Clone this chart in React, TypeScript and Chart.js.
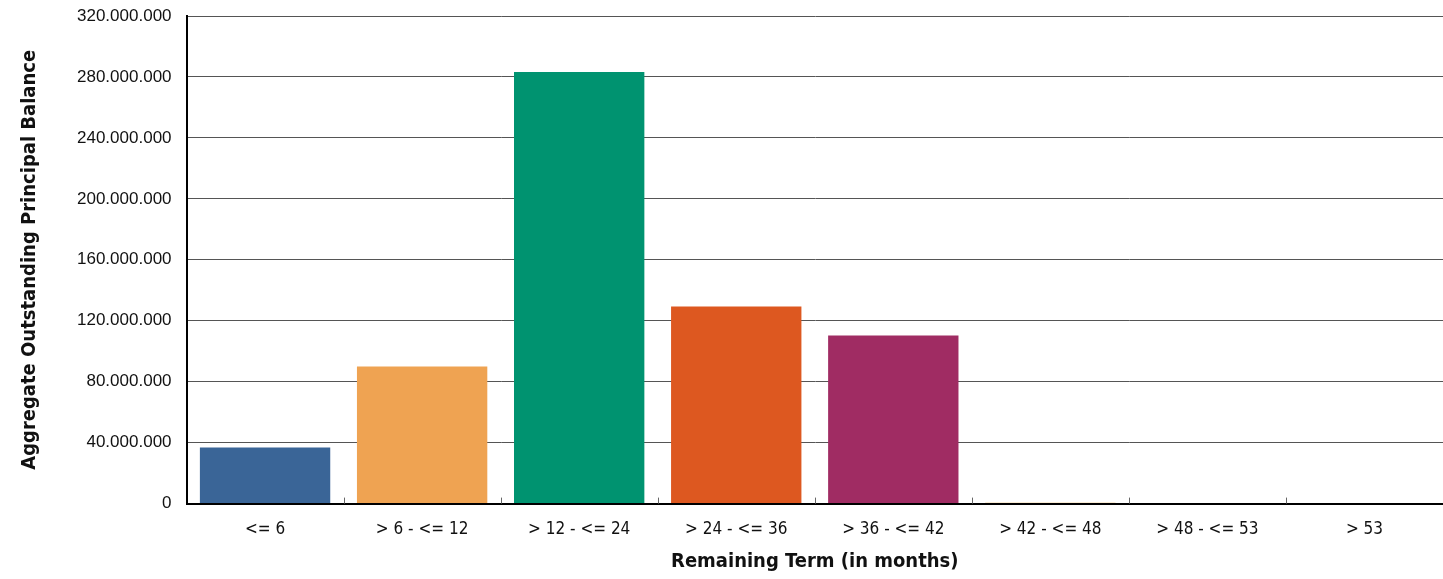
import React, { useEffect, useRef } from "react";
import { Chart, registerables } from "chart.js";

Chart.register(...registerables);

const categories = ["<= 6", "> 6 - <= 12", "> 12 - <= 24", "> 24 - <= 36", "> 36 - <= 42", "> 42 - <= 48", "> 48 - <= 53", "> 53"];
const balances = [36800000, 90000000, 283200000, 129400000, 110400000, 500000, 0, 0];
const barColors = ["#3a6597", "#efa352", "#009370", "#dd5820", "#a02c63", "#e9b35a", "#3a6597", "#efa352"];
const yTickMax = 320000000;
const yTickStep = 40000000;
const xTitle = "Remaining Term (in months)";
const yTitle = "Aggregate Outstanding Principal Balance";

const fmt = (v: number) => Math.round(v).toString().replace(/\B(?=(\d{3})+(?!\d))/g, ".");

const innerTicks = {
  id: "innerTicks",
  afterDatasetsDraw(chart: any) {
    const x = chart.scales.x;
    const y = chart.scales.y;
    const ctx = chart.ctx;
    const y0 = y.getPixelForValue(0);
    ctx.save();
    ctx.strokeStyle = "#666";
    ctx.lineWidth = 1;
    for (let i = 1; i < categories.length; i++) {
      const px = Math.round((x.getPixelForValue(i - 1) + x.getPixelForValue(i)) / 2) + 0.5;
      ctx.beginPath();
      ctx.moveTo(px, y0 - 6);
      ctx.lineTo(px, y0);
      ctx.stroke();
    }
    ctx.restore();
  },
};

export default function App() {
  const ref = useRef<HTMLCanvasElement>(null);
  useEffect(() => {
    document.body.style.margin = "0";
    const chart = new Chart(ref.current!, {
      type: "bar",
      data: {
        labels: categories,
        datasets: [
          {
            data: balances,
            backgroundColor: barColors,
            borderWidth: 0,
            categoryPercentage: 1,
            barPercentage: 0.83,
          },
        ],
      },
      options: {
        animation: false,
        responsive: false,
        maintainAspectRatio: false,
        layout: { padding: { top: 0, right: 0, left: 18, bottom: 5 } },
        plugins: { legend: { display: false }, tooltip: { enabled: false } },
        scales: {
          x: {
            grid: { display: false, drawTicks: false },
            border: { display: true, color: "#000", width: 2 },
            ticks: {
              color: "#111",
              padding: 16,
              font: { family: "'Liberation Sans Narrow', 'DejaVu Sans Condensed', sans-serif", size: 17 },
              maxRotation: 0,
              autoSkip: false,
            },
            title: {
              display: true,
              text: xTitle,
              color: "#111",
              padding: { top: -6, bottom: 0 },
              font: { family: "'Liberation Sans Narrow', 'DejaVu Sans Condensed', sans-serif", size: 20, weight: "bold" },
            },
          },
          y: {
            min: 0,
            max: yTickMax,
            afterFit: (s: any) => {
              s.paddingTop = 16;
            },
            grid: { color: "#555", lineWidth: 1, drawTicks: false },
            border: { display: true, color: "#000", width: 2 },
            ticks: {
              stepSize: yTickStep,
              color: "#111",
              padding: 15,
              font: { family: "'Liberation Sans', Arial, sans-serif", size: 17 },
              callback: (v: any) => fmt(Number(v)),
            },
            title: {
              display: true,
              text: yTitle,
              color: "#111",
              padding: { top: 0, bottom: 20 },
              font: { family: "'Liberation Sans Narrow', 'DejaVu Sans Condensed', sans-serif", size: 20, weight: "bold" },
            },
          },
        },
      },
      plugins: [innerTicks],
    });
    return () => chart.destroy();
  }, []);
  return (
    <div style={{ position: "absolute", left: 0, top: 0, width: 1443, height: 579 }}>
      <canvas ref={ref} width={1443} height={579} style={{ width: 1443, height: 579 }} />
    </div>
  );
}
